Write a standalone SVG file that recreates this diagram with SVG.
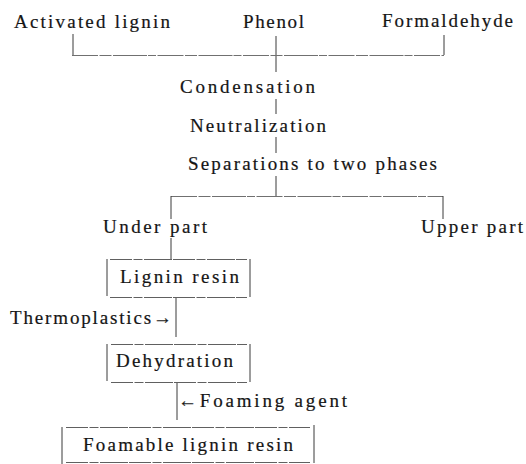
<svg xmlns="http://www.w3.org/2000/svg" width="526" height="464" viewBox="0 0 526 464">
  <style>
    .t { font-family: "Liberation Serif", "Times New Roman", serif; font-size: 19px; fill: #151515; stroke: #151515; stroke-width: 0.2; }
    .v { stroke: #3a3a3a; stroke-width: 1; fill: none; }
    .h { stroke: #707070; stroke-width: 1; fill: none; stroke-dasharray: 26 1.5 12 1.5 34 1 8 1.5; }
    .bx { stroke: #606060; stroke-width: 1; fill: none; stroke-dasharray: 22 1.5 9 1.5 28 1; }
    .bs { stroke: #3a3a3a; stroke-width: 1; fill: none; }
  </style>
  <rect width="526" height="464" fill="#ffffff"/>

  <!-- connectors -->
  <g id="connectors">
    <!-- three raw materials joined -->
    <line class="v" x1="73" y1="34" x2="73" y2="55"/>
    <line class="v" x1="276" y1="36" x2="276" y2="72"/>
    <line class="v" x1="444" y1="35" x2="444" y2="55"/>
    <line class="h" x1="72" y1="55.5" x2="444" y2="55.5"/>
    <!-- main process chain -->
    <line class="v" x1="276" y1="99" x2="276" y2="114"/>
    <line class="v" x1="276" y1="137" x2="276" y2="153"/>
    <line class="v" x1="276" y1="176" x2="276" y2="196"/>
    <!-- phase split -->
    <line class="h" x1="171" y1="196.5" x2="443" y2="196.5"/>
    <line class="v" x1="171" y1="196" x2="171" y2="219"/>
    <line class="v" x1="443" y1="196" x2="443" y2="219"/>
    <!-- under part to resin -->
    <line class="v" x1="171" y1="238" x2="171" y2="259"/>
    <!-- resin to dehydration -->
    <line class="v" x1="176" y1="298" x2="176" y2="337"/>
    <!-- dehydration to foamable resin -->
    <line class="v" x1="177" y1="383" x2="177" y2="420"/>
  </g>

  <g id="activated-lignin"><text class="t" x="14" y="28" textLength="156" lengthAdjust="spacing">Activated lignin</text></g>
  <g id="phenol"><text class="t" x="243" y="28" textLength="61" lengthAdjust="spacing">Phenol</text></g>
  <g id="formaldehyde"><text class="t" x="382" y="27" textLength="131" lengthAdjust="spacing">Formaldehyde</text></g>

  <g id="condensation"><text class="t" x="180" y="93" textLength="135" lengthAdjust="spacing">Condensation</text></g>
  <g id="neutralization"><text class="t" x="190" y="132" textLength="136" lengthAdjust="spacing">Neutralization</text></g>
  <g id="separation"><text class="t" x="188" y="170" textLength="249" lengthAdjust="spacing">Separations to two phases</text></g>

  <g id="under-part"><text class="t" x="103" y="233" textLength="104" lengthAdjust="spacing">Under part</text></g>
  <g id="upper-part"><text class="t" x="421" y="233" textLength="102" lengthAdjust="spacing">Upper part</text></g>

  <g id="lignin-resin">
    <line class="bs" x1="107" y1="259" x2="107" y2="296"/>
    <line class="bs" x1="250" y1="259" x2="250" y2="297"/>
    <line class="bx" x1="110" y1="259.5" x2="247" y2="259.5"/>
    <line class="bx" x1="110" y1="297.5" x2="247" y2="297.5"/>
    <text class="t" x="120" y="283" textLength="119" lengthAdjust="spacing">Lignin resin</text>
  </g>

  <g id="thermoplastics"><text class="t" x="10" y="324" textLength="162" lengthAdjust="spacing">Thermoplastics→</text></g>

  <g id="dehydration">
    <line class="bs" x1="107" y1="344" x2="107" y2="381"/>
    <line class="bs" x1="250" y1="344" x2="250" y2="382"/>
    <line class="bx" x1="111" y1="344.5" x2="247" y2="344.5"/>
    <line class="bx" x1="111" y1="382.5" x2="247" y2="382.5"/>
    <text class="t" x="116" y="367" textLength="117" lengthAdjust="spacing">Dehydration</text>
  </g>

  <g id="foaming-agent"><text class="t" x="178" y="407" textLength="169" lengthAdjust="spacing">←Foaming  agent</text></g>

  <g id="foamable-resin">
    <line class="bs" x1="62" y1="427" x2="62" y2="464"/>
    <line class="bs" x1="314" y1="425" x2="314" y2="463"/>
    <line class="bx" x1="66" y1="427.5" x2="310" y2="427.5"/>
    <line class="bx" x1="66" y1="462.5" x2="310" y2="462.5"/>
    <text class="t" x="83" y="451" textLength="210" lengthAdjust="spacing">Foamable lignin resin</text>
  </g>
</svg>
